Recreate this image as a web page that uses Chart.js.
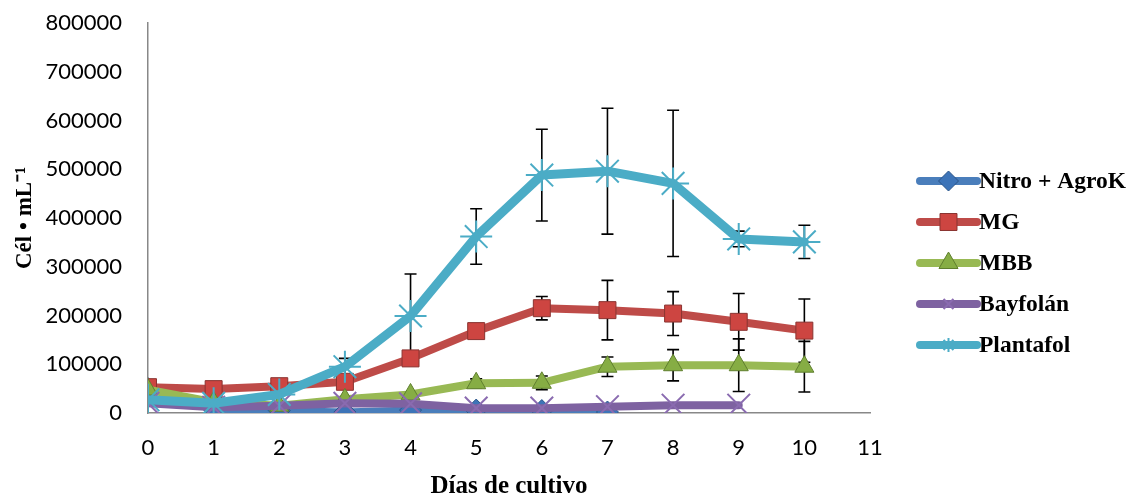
<!DOCTYPE html>
<html>
<head>
<meta charset="utf-8">
<title>Cél • mL-1 vs Días de cultivo</title>
<script src="https://cdn.jsdelivr.net/npm/chart.js@4.4.1/dist/chart.umd.min.js"></script>
<style>
  html, body { margin: 0; padding: 0; background: #fff; }
  #wrap { width: 1132px; height: 497px; position: relative; }
</style>
</head>
<body>
<div id="wrap"><canvas id="cultivoChart"></canvas></div>
<script>
// ---- data ----
const days = [0, 1, 2, 3, 4, 5, 6, 7, 8, 9, 10];

const nitroAgroK = [50000, 8000, 5000, 2000, 6000, 6000, 5000, 2000];          // days 0-7
const mg         = [53000, 49000, 55000, 64000, 112000, 168000, 215000, 211000, 204000, 187000, 169000];
const mbb        = [48000, 22000, 15000, 28000, 38000, 61000, 62000, 95000, 98000, 98000, 95000];
const bayfolan   = [20000, 12000, 15000, 20000, 19000, 10000, 10000, 13000, 16000, 16000]; // days 0-9
const plantafol  = [27000, 20000, 38000, 95000, 199000, 362000, 488000, 496000, 471000, 357000, 351000];

// standard deviations (error bars)
const mgErr        = [0, 0, 0, 0, 0, 0, 24000, 61000, 45000, 58000, 65000];
const mbbErr       = [0, 0, 0, 0, 0, 9000, 14000, 20000, 32000, 54000, 52000];
const plantafolErr = [0, 0, 0, 17000, 86000, 57000, 94000, 129000, 150000, 16000, 34000];

const xTicks = [0, 1, 2, 3, 4, 5, 6, 7, 8, 9, 10, 11];
const yTicks = [0, 100000, 200000, 300000, 400000, 500000, 600000, 700000, 800000];

const seriesNames = ['Nitro + AgroK', 'MG', 'MBB', 'Bayfolán', 'Plantafol'];

// ---- helpers ----
function points(values) {
    return values.map((v, i) => ({ x: days[i], y: v }));
}

function series(label, values, style) {
    return Object.assign({
        label: label,
        data: points(values),
        tension: 0,
        fill: false,
        borderJoinStyle: 'round',
        borderCapStyle: 'round'
    }, style);
}

// error bars drawn under the lines, through the library scales
const errorBars = {
    id: 'errorBars',
    beforeDatasetsDraw(chart) {
        const ctx = chart.ctx;
        const xs = chart.scales.x;
        const ys = chart.scales.y;
        ctx.save();
        ctx.strokeStyle = '#000';
        ctx.lineWidth = 1.6;
        chart.data.datasets.forEach(ds => {
            if (!ds.errors) return;
            ds.data.forEach((p, i) => {
                const e = ds.errors[i];
                if (!e) return;
                const x = xs.getPixelForValue(p.x);
                const top = ys.getPixelForValue(p.y + e);
                const bot = ys.getPixelForValue(p.y - e);
                ctx.beginPath();
                ctx.moveTo(x, top); ctx.lineTo(x, bot);
                ctx.moveTo(x - 6, top); ctx.lineTo(x + 6, top);
                ctx.moveTo(x - 6, bot); ctx.lineTo(x + 6, bot);
                ctx.stroke();
            });
        });
        ctx.restore();
    }
};

// Excel style legend: line segment with the marker in the middle
const sideLegend = {
    id: 'sideLegend',
    afterDraw(chart) {
        const ctx = chart.ctx;
        const x0 = 920, x1 = 977, textX = 979;
        ctx.save();
        chart.data.datasets.forEach((ds, i) => {
            const y = 181 + i * 41;
            ctx.strokeStyle = ds.borderColor;
            ctx.lineWidth = 8;
            ctx.lineCap = 'round';
            ctx.beginPath();
            ctx.moveTo(x0, y);
            ctx.lineTo(x1, y);
            ctx.stroke();

            ctx.lineCap = 'butt';
            ctx.fillStyle = ds.pointBackgroundColor;
            ctx.strokeStyle = ds.pointBorderColor;
            ctx.lineWidth = ds.pointBorderWidth;
            Chart.helpers.drawPoint(ctx, {
                pointStyle: ds.pointStyle,
                radius: ds.legendRadius,
                rotation: 0,
                borderWidth: ds.pointBorderWidth
            }, (x0 + x1) / 2, y);

            ctx.fillStyle = '#000';
            ctx.font = 'bold 23.5px "Liberation Serif", "Times New Roman", serif';
            ctx.textAlign = 'left';
            ctx.textBaseline = 'middle';
            ctx.fillText(ds.label, textX, y + 1);
        });
        ctx.restore();
    }
};

const tickFont = { family: 'Lato, "Liberation Sans", sans-serif', size: 22 };
const xTitleFont = { family: '"Liberation Serif", "Times New Roman", serif', size: 25, weight: 'bold', lineHeight: 0.8 };
const yTitleFont = { family: '"Liberation Serif", "Times New Roman", serif', size: 23, weight: 'bold', lineHeight: 0.85 };

new Chart(document.getElementById('cultivoChart'), {
    type: 'line',
    data: {
        datasets: [
            series(seriesNames[0], nitroAgroK, {
                borderColor: '#4A7EBB', borderWidth: 7, order: 5,
                pointStyle: 'rectRot', pointRadius: 11, legendRadius: 10,
                pointBackgroundColor: '#3D74B8', pointBorderColor: '#2B5589', pointBorderWidth: 1
            }),
            Object.assign(series(seriesNames[1], mg, {
                borderColor: '#BE4B48', borderWidth: 8, order: 4,
                pointStyle: 'rect', pointRadius: 12, legendRadius: 12,
                pointBackgroundColor: '#CD4541', pointBorderColor: '#8A3431', pointBorderWidth: 1
            }), { errors: mgErr }),
            Object.assign(series(seriesNames[2], mbb, {
                borderColor: '#98B954', borderWidth: 8, order: 3,
                pointStyle: 'triangle', pointRadius: 11, legendRadius: 11,
                pointBackgroundColor: '#86AD44', pointBorderColor: '#5F7F2E', pointBorderWidth: 1
            }), { errors: mbbErr }),
            series(seriesNames[3], bayfolan, {
                borderColor: '#7E62A1', borderWidth: 8, order: 2,
                pointStyle: 'crossRot', pointRadius: 16, legendRadius: 7,
                pointBackgroundColor: '#7E62A1', pointBorderColor: '#8A6BB0', pointBorderWidth: 2
            }),
            Object.assign(series(seriesNames[4], plantafol, {
                borderColor: '#4BACC6', borderWidth: 9, order: 1,
                pointStyle: 'star', pointRadius: 16, legendRadius: 7,
                pointBackgroundColor: '#4BACC6', pointBorderColor: '#4BACC6', pointBorderWidth: 2
            }), { errors: plantafolErr })
        ]
    },
    options: {
        responsive: true,
        maintainAspectRatio: false,
        animation: false,
        layout: { padding: { top: 23, right: 262, bottom: 0, left: 0 } },
        plugins: {
            legend: { display: false },
            tooltip: { enabled: false }
        },
        scales: {
            x: {
                type: 'linear',
                min: 0,
                max: 11,
                afterBuildTicks: scale => { scale.ticks = xTicks.map(v => ({ value: v })); },
                afterFit: scale => { scale.height = 84; },
                ticks: { font: tickFont, color: '#000', padding: 22, maxRotation: 0 },
                grid: { display: false, drawTicks: false },
                border: { display: true, color: '#888888', width: 1.5 },
                title: { display: true, text: 'Días de cultivo', color: '#000', font: xTitleFont, padding: 0 }
            },
            y: {
                min: 0,
                max: 800000,
                afterBuildTicks: scale => { scale.ticks = yTicks.map(v => ({ value: v })); },
                afterFit: scale => {
                    scale.width = 148;
                    scale.paddingTop = 0;
                    scale.paddingBottom = 0;
                },
                ticks: { font: tickFont, color: '#000', padding: 26, callback: v => String(v) },
                grid: { display: false, drawTicks: false },
                border: { display: true, color: '#888888', width: 1.5 },
                title: { display: true, text: 'Cél • mL⁻¹', color: '#000', font: yTitleFont, padding: { top: 15, bottom: 0 } }
            }
        }
    },
    plugins: [errorBars, sideLegend]
});
</script>
</body>
</html>
